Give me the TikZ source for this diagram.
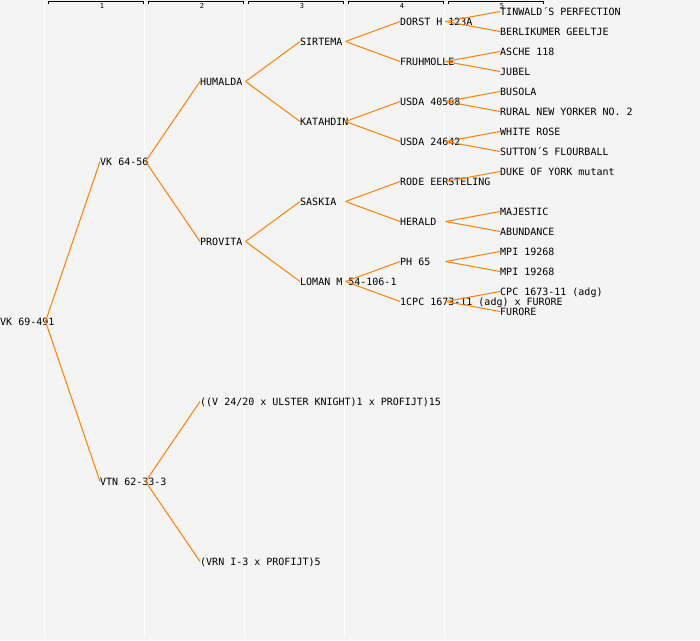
\documentclass[tikz,border=0pt]{standalone}
\usepackage{fontspec}
\usepackage{xcolor}
\usetikzlibrary{positioning}
\newfontfamily\pedfont{DejaVu Sans Mono}
\definecolor{pedbg}{RGB}{244,244,244}
\definecolor{pedline}{RGB}{255,128,0}
\def\colsep{100}

\begin{document}
\begin{tikzpicture}[x=1pt,y=-1pt]
    \tikzstyle{plant}=[anchor=west, inner sep=0pt, text height=7.3pt, text depth=0pt, font=\pedfont\fontsize{10}{12}\selectfont]
    \tikzstyle{cross}=[draw=pedline, line width=1pt]
    \tikzstyle{gen label}=[inner sep=0pt, font=\pedfont\fontsize{7}{7}\selectfont]

    \fill[pedbg] (0,0) rectangle (700,640);
    \useasboundingbox (0,0) rectangle (700,640);

%   generation columns with their brackets
    \foreach \k in {0,1,2,3,4}{
        \pgfmathsetmacro\xa{\k*\colsep+44.5}
        \pgfmathsetmacro\xb{\k*\colsep+48}
        \pgfmathsetmacro\xc{\k*\colsep+143}
        \pgfmathtruncatemacro\n{\k+1}
        \draw[white, line width=1pt] (\xa,0) -- (\xa,638);
        \draw[black, line width=1pt] (\xb,4) -- (\xb,1.5) -- (\xc,1.5) -- (\xc,4);
        \node[gen label] (G-\n) at (\k*\colsep+102,6) {\n};
        }

%   generation 0 and 1
    \node[plant] (VK69) at (0,321.5) {VK 69-491};
    \node[plant] (VK64) at (100,161.5) {VK 64-56};
    \node[plant] (VTN62) at (100,481.5) {VTN 62-33-3};

%   generation 2
    \node[plant] (HUM) at (200,81.5) {HUMALDA};
    \node[plant] (PRO) at (200,241.5) {PROVITA};
    \node[plant] (VUL) at (200,401.5) {((V 24/20 x ULSTER KNIGHT)1 x PROFIJT)15};
    \node[plant] (VRN) at (200,561.5) {(VRN I-3 x PROFIJT)5};

%   generation 3
    \node[plant] (SIR) at (300,41.5) {SIRTEMA};
    \node[plant] (KAT) at (300,121.5) {KATAHDIN};
    \node[plant] (SAS) at (300,201.5) {SASKIA};
    \node[plant] (LOM) at (300,281.5) {LOMAN M 54-106-1};

%   generation 4
    \node[plant] (DOR) at (400,21.5) {DORST H 123A};
    \node[plant] (FRU) at (400,61.5) {FRUHMOLLE};
    \node[plant] (US40) at (400,101.5) {USDA 40568};
    \node[plant] (US24) at (400,141.5) {USDA 24642};
    \node[plant] (ROD) at (400,181.5) {RODE EERSTELING};
    \node[plant] (HER) at (400,221.5) {HERALD};
    \node[plant] (PH65) at (400,261.5) {PH 65};
    \node[plant] (CPC) at (400,301.5) {1CPC 1673-11 (adg) x FURORE};

%   generation 5
    \node[plant] (TIN) at (500,11.5) {TINWALD´S PERFECTION};
    \node[plant] (BER) at (500,31.5) {BERLIKUMER GEELTJE};
    \node[plant] (ASC) at (500,51.5) {ASCHE 118};
    \node[plant] (JUB) at (500,71.5) {JUBEL};
    \node[plant] (BUS) at (500,91.5) {BUSOLA};
    \node[plant] (RUR) at (500,111.5) {RURAL NEW YORKER NO. 2};
    \node[plant] (WHI) at (500,131.5) {WHITE ROSE};
    \node[plant] (SUT) at (500,151.5) {SUTTON´S FLOURBALL};
    \node[plant] (DUK) at (500,171.5) {DUKE OF YORK mutant};
    \node[plant] (MAJ) at (500,211.5) {MAJESTIC};
    \node[plant] (ABU) at (500,231.5) {ABUNDANCE};
    \node[plant] (MPIa) at (500,251.5) {MPI 19268};
    \node[plant] (MPIb) at (500,271.5) {MPI 19268};
    \node[plant] (CPCa) at (500,291.5) {CPC 1673-11 (adg)};
    \node[plant] (FUR) at (500,311.5) {FURORE};

    \foreach \p/\c in {VK69/VK64, VK69/VTN62, VK64/HUM, VK64/PRO, VTN62/VUL, VTN62/VRN,
        HUM/SIR, HUM/KAT, PRO/SAS, PRO/LOM,
        SIR/DOR, SIR/FRU, KAT/US40, KAT/US24, SAS/ROD, SAS/HER, LOM/PH65, LOM/CPC,
        DOR/TIN, DOR/BER, FRU/ASC, FRU/JUB, US40/BUS, US40/RUR, US24/WHI, US24/SUT,
        ROD/DUK, HER/MAJ, HER/ABU, PH65/MPIa, PH65/MPIb, CPC/CPCa, CPC/FUR}{
        \draw[cross] ([xshift=45.5pt]\p.west) -- (\c.west);
        }
\end{tikzpicture}
\end{document}
